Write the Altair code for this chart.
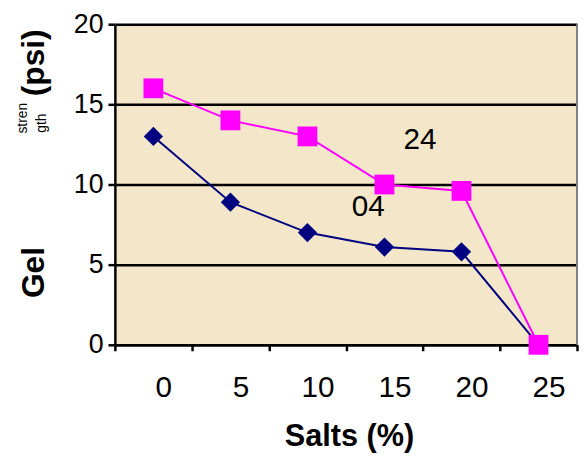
import json
import altair as alt
import pandas as pd

# ---- data ----
salts = ["0", "5", "10", "15", "20", "25"]          # category labels (Salts %)
gel_24 = [16.0, 14.0, 13.0, 10.0, 9.6, 0.0]         # magenta squares
gel_04 = [13.0, 8.9, 7.0, 6.1, 5.8, 0.0]            # navy diamonds
y_ticks = [0, 5, 10, 15, 20]
notes = ["24", "04"]
note_pos = [3.46, 2.79]
note_val = [12.8, 8.6]

FONT = "Liberation Sans"
W, H = 467, 324

idx = list(range(len(salts)))
df04 = pd.DataFrame({"i": idx, "salt": salts, "gel": gel_04})
df24 = pd.DataFrame({"i": idx, "salt": salts, "gel": gel_24})
dfn = pd.DataFrame({"i": note_pos, "gel": note_val, "note": notes})

edges = [i - 0.5 for i in range(len(salts) + 1)]
label_expr = (
    f"datum.value < {len(salts) - 0.5} ? "
    f"{json.dumps(salts)}[round(datum.value + 0.5)] : ''"
)

xscale = alt.Scale(domain=[-0.5, len(salts) - 0.5], nice=False, zero=False)
yscale = alt.Scale(domain=[0, 20], nice=False)

xaxis = alt.Axis(
    values=edges, labelExpr=label_expr, grid=False, title=None,
    tickSize=6, tickWidth=2.5, tickColor="black",
    domainColor="black", domainWidth=2.5,
    labelFont=FONT, labelFontSize=30, labelColor="black",
    labelOffset=49, labelPadding=46, labelBaseline="alphabetic",
    labelFlush=False, labelOverlap=False,
)
yaxis = alt.Axis(
    values=y_ticks, grid=True, gridColor="black", gridWidth=2.5, title=None,
    tickSize=7, tickWidth=2.5, tickColor="black",
    domainColor="black", domainWidth=2.5,
    labelFont=FONT, labelFontSize=27, labelColor="black", labelPadding=5,
)

X = alt.X("i:Q", scale=xscale, axis=xaxis)
Y = alt.Y("gel:Q", scale=yscale, axis=yaxis)

line04 = alt.Chart(df04).mark_line(color="#000080", strokeWidth=2).encode(x=X, y=Y)
pts04 = alt.Chart(df04).mark_point(
    shape="diamond", filled=True, size=380, color="#000080", opacity=1
).encode(x=X, y=Y)
line24 = alt.Chart(df24).mark_line(color="#FF00FF", strokeWidth=2).encode(x=X, y=Y)
pts24 = alt.Chart(df24).mark_point(
    shape="square", filled=True, size=400, color="#FF00FF", opacity=1
).encode(x=X, y=Y)

notes_layer = alt.Chart(dfn).mark_text(
    font=FONT, fontSize=30, color="black", align="center", baseline="middle"
).encode(x=X, y=Y, text="note:N")

border = alt.Chart(pd.DataFrame({"k": [0]})).mark_rule(
    color="#808080", strokeWidth=2
).encode(x=alt.value(W), y=alt.value(0), y2=alt.value(H))


def label(txt, x, y, size, bold, angle=0):
    return alt.Chart(pd.DataFrame({"t": [txt]})).mark_text(
        font=FONT, fontSize=size, fontWeight="bold" if bold else "normal",
        color="black", align="center", baseline="alphabetic", angle=angle,
    ).encode(x=alt.value(x), y=alt.value(y), text="t:N")


titles = [
    label("Gel", -72, 251, 32, True, 270),
    label("(psi)", -72, 39, 32, True, 270),
    label("stren", -89, 95, 14, False, 270),
    label("gth", -70, 100, 14, False, 270),
    label("Salts (%)", 237, 426, 31, True),
]

chart = alt.layer(
    line04, line24, pts04, pts24, notes_layer, border, *titles
).properties(
    width=W, height=H,
    autosize=alt.AutoSizeParams(type="none"),
    padding={"left": 108, "top": 14, "right": 2, "bottom": 110},
).configure_view(
    fill="#F4E6C8", stroke="transparent"
)

chart.save("out.html", embed_options={"renderer": "svg", "actions": False})
